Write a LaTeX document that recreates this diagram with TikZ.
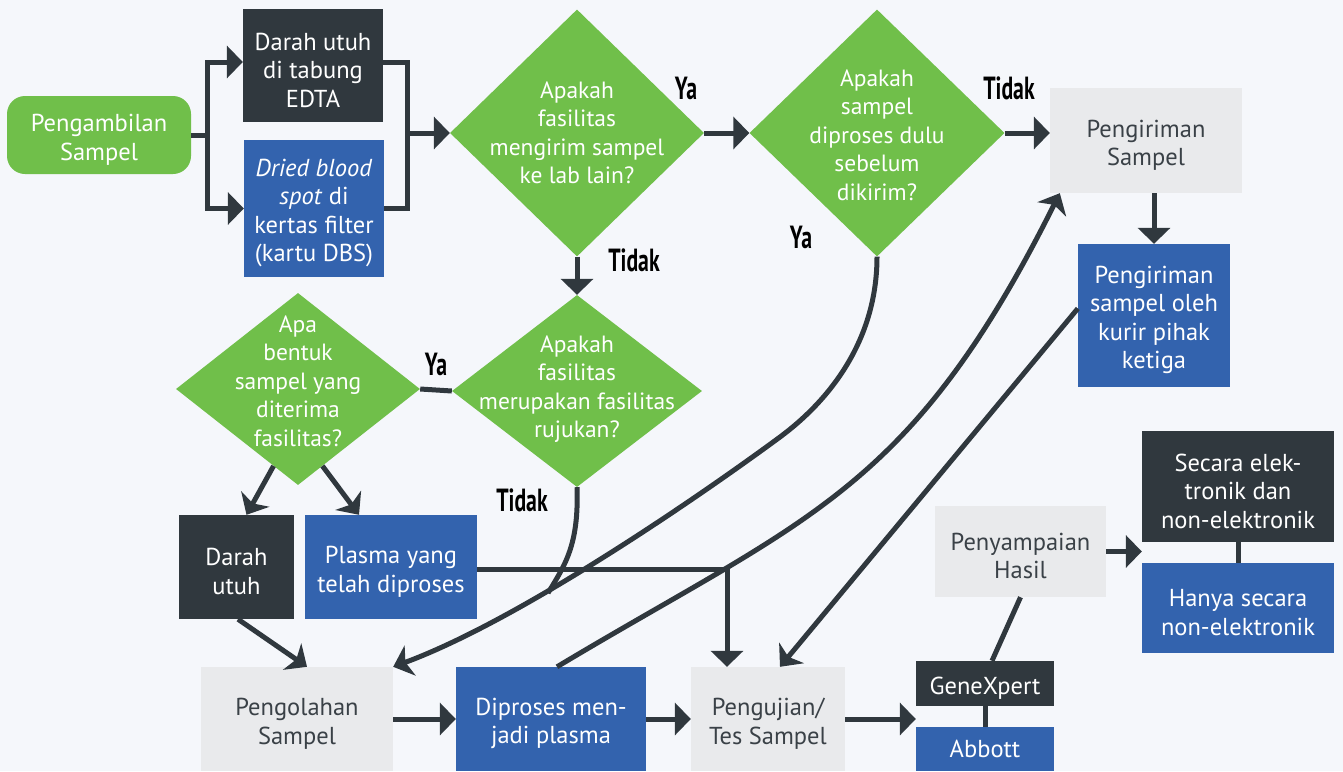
\documentclass[tikz,border=0pt]{standalone}
\usepackage{fontspec}
\setmainfont{PT Sans}
\usepackage{graphicx}
\usepackage{tikz}
\usetikzlibrary{shapes.geometric,arrows.meta,calc}

\definecolor{fgreen}{HTML}{70BF4A}
\definecolor{fdark}{HTML}{30383E}
\definecolor{fblue}{HTML}{3363AE}
\definecolor{flight}{HTML}{E9EAEC}
\definecolor{fback}{HTML}{F5F7FB}
\definecolor{ftext}{HTML}{3A4147}

% empty first row, pushes box text a little lower
\newcommand{\padtop}{\mbox{}\\[-2pt]}

\begin{document}
\begin{tikzpicture}[x=1pt, y=-1pt, >={Triangle[length=16pt,width=32pt]}, font=\fontsize{24.5}{28.5}\selectfont]

% Define block styles
\tikzstyle{box} = [rectangle, align=center, inner sep=0pt, text=white]
\tikzstyle{darkbox} = [box, fill=fdark]
\tikzstyle{bluebox} = [box, fill=fblue]
\tikzstyle{lightbox} = [box, fill=flight, text=ftext]
\tikzstyle{decision} = [diamond, fill=fgreen, inner sep=0pt]
\tikzstyle{dtext} = [align=center, text=white, font=\fontsize{23.5}{28.5}\selectfont]
\tikzstyle{answer} = [font=\fontsize{32}{32}\selectfont\bfseries, text=black]
\tikzstyle{line} = [draw=fdark, line width=5pt]
\tikzstyle{curvy} = [line, >={Stealth[length=18pt,width=32pt,inset=5pt]}]

% Canvas
\useasboundingbox (0,0) rectangle (1343,771);
\fill[fback] (0,0) rectangle (1343,771);

% Nodes
\node [box, fill=fgreen, rounded corners=18pt, minimum width=184pt, minimum height=78pt] (start) at (99,135) {\padtop Pengambilan\\Sampel};
\node [darkbox, minimum width=140pt, minimum height=113pt] (edta) at (313,65.5) {\padtop Darah utuh\\di tabung\\EDTA};
\node [bluebox, minimum width=140pt, minimum height=137pt] (dbs) at (314,208.5) {\padtop\textit{Dried blood}\\\textit{spot} di\\kertas filter\\(kartu DBS)};

\node [decision, minimum width=254pt, minimum height=247pt] (d1) at (577,133) {};
\node [dtext] (d1text) at (d1) {Apakah\\fasilitas\\mengirim sampel\\ke lab lain?};
\node [decision, minimum width=255pt, minimum height=247pt] (d2) at (877,133) {};
\node [dtext] (d2text) at (877,135) {Apakah\\sampel\\diproses dulu\\sebelum\\dikirim?};
\node [decision, minimum width=250pt, minimum height=192pt] (d3) at (577,391) {};
\node [dtext] (d3text) at (577,389) {Apakah\\fasilitas\\merupakan fasilitas\\rujukan?};
\node [decision, minimum width=244pt, minimum height=192pt] (d4) at (298,389) {};
\node [dtext] (d4text) at (298,381) {Apa\\bentuk\\sampel yang\\diterima\\fasilitas?};

\node [lightbox, minimum width=192pt, minimum height=105pt] (kirim) at (1146,140.5) {\padtop Pengiriman\\Sampel};
\node [bluebox, minimum width=152pt, minimum height=143pt] (kurir) at (1154,315.5) {\padtop Pengiriman\\sampel oleh\\kurir pihak\\ketiga};

\node [darkbox, minimum width=115pt, minimum height=104pt] (darah) at (236.5,567) {\padtop Darah\\utuh};
\node [bluebox, minimum width=172pt, minimum height=104pt] (plasma) at (391,567) {\padtop Plasma yang\\telah diproses};

\node [lightbox, minimum width=192pt, minimum height=104pt] (olah) at (297,719) {\padtop Pengolahan\\Sampel};
\node [bluebox, minimum width=190pt, minimum height=104pt] (diproses) at (551,719) {\padtop Diproses men-\\jadi plasma};
\node [lightbox, minimum width=154pt, minimum height=104pt] (uji) at (768,719) {\padtop Pengujian/\\Tes Sampel};
\node [darkbox, minimum width=138pt, minimum height=45pt] (gx) at (985,683.5) {\padtop GeneXpert};
\node [bluebox, minimum width=138pt, minimum height=44pt] (abbott) at (985,749) {Abbott};

\node [lightbox, minimum width=171pt, minimum height=91pt] (hasil) at (1020.5,551.5) {\padtop Penyampaian\\Hasil};
\node [darkbox, minimum width=192pt, minimum height=111pt] (elek) at (1238,486.5) {\padtop Secara elek-\\tronik dan\\non-elektronik};
\node [bluebox, minimum width=192pt, minimum height=90pt] (hanya) at (1238,608) {\padtop Hanya secara\\non-elektronik};

% Answers
\node [answer] (ya1) at (686,88) {\scalebox{0.68}[1]{Ya}};
\node [answer] (tidak1) at (634,260) {\scalebox{0.68}[1]{Tidak}};
\node [answer] (tidak2) at (1009,88) {\scalebox{0.68}[1]{Tidak}};
\node [answer] (ya2) at (801,237) {\scalebox{0.68}[1]{Ya}};
\node [answer] (ya3) at (436,364) {\scalebox{0.68}[1]{Ya}};
\node [answer] (tidak3) at (522,500) {\scalebox{0.68}[1]{Tidak}};

\coordinate (fork) at (207,135);
\coordinate (merge) at (407,133);
\coordinate (tidakend) at (548,593);

% Connections
\draw [line] (start.east) -- (fork);
\draw [line, <->] ([yshift=3.5pt]edta.west) -| (fork) |- (dbs.west); % split to both sample types
\draw [line] ([yshift=3.5pt]edta.east) -| (merge) |- (dbs.east);
\draw [line, ->] (merge) -- (d1.west);
\draw [line, ->] (d1.east) -- (d2.west);
\draw [line, ->] (d1.south) -- (d3.north);
\draw [line, ->] (d2.east) -- (d2.east -| kirim.west);
\draw [line, ->] (kurir.north |- kirim.south) -- (kurir.north);
\draw [line] (d3.west) -- (d4.east);
\draw [curvy, ->] ($(d4.south)!0.2!(d4.west)$) -- ([xshift=10pt]darah.north);
\draw [curvy, ->] ($(d4.south)!0.2!(d4.east)$) -- ([xshift=-32pt]plasma.north);
\draw [curvy, ->] ([xshift=1.5pt]darah.south) -- ([xshift=10pt]olah.north);
\draw [line, ->] ([yshift=-2pt]plasma.east) -| ([xshift=-41pt]uji.north);
\draw [line] (d3.south) .. controls (579,545) and (565,565) .. (tidakend); % ends under the plasma line
\draw [curvy, ->] (d2.south) .. controls (877,340) and (830,400) .. (780,437) .. controls (700,496) and (520,620) .. (olah.north east);
\draw [curvy, ->] ([xshift=6pt]diproses.north) .. controls (807,517) and (910,493) .. ([xshift=10pt]kirim.south west);
\draw [curvy, ->] ([yshift=7pt]kurir.west) -- ([xshift=12pt]uji.north);
\draw [line, ->] (olah.east) -- (diproses.west);
\draw [line, ->] (diproses.east) -- (uji.west);
\draw [line, ->] (uji.east) -- (uji.east -| gx.west);
\draw [line] (hasil.south) -- ([xshift=7pt]gx.north);
\draw [line] (gx.south) -- (abbott.north);
\draw [line, ->] (hasil.east) -- (hasil.east -| elek.west);
\draw [line] (elek.south) -- (hanya.north);

\end{tikzpicture}
\end{document}
